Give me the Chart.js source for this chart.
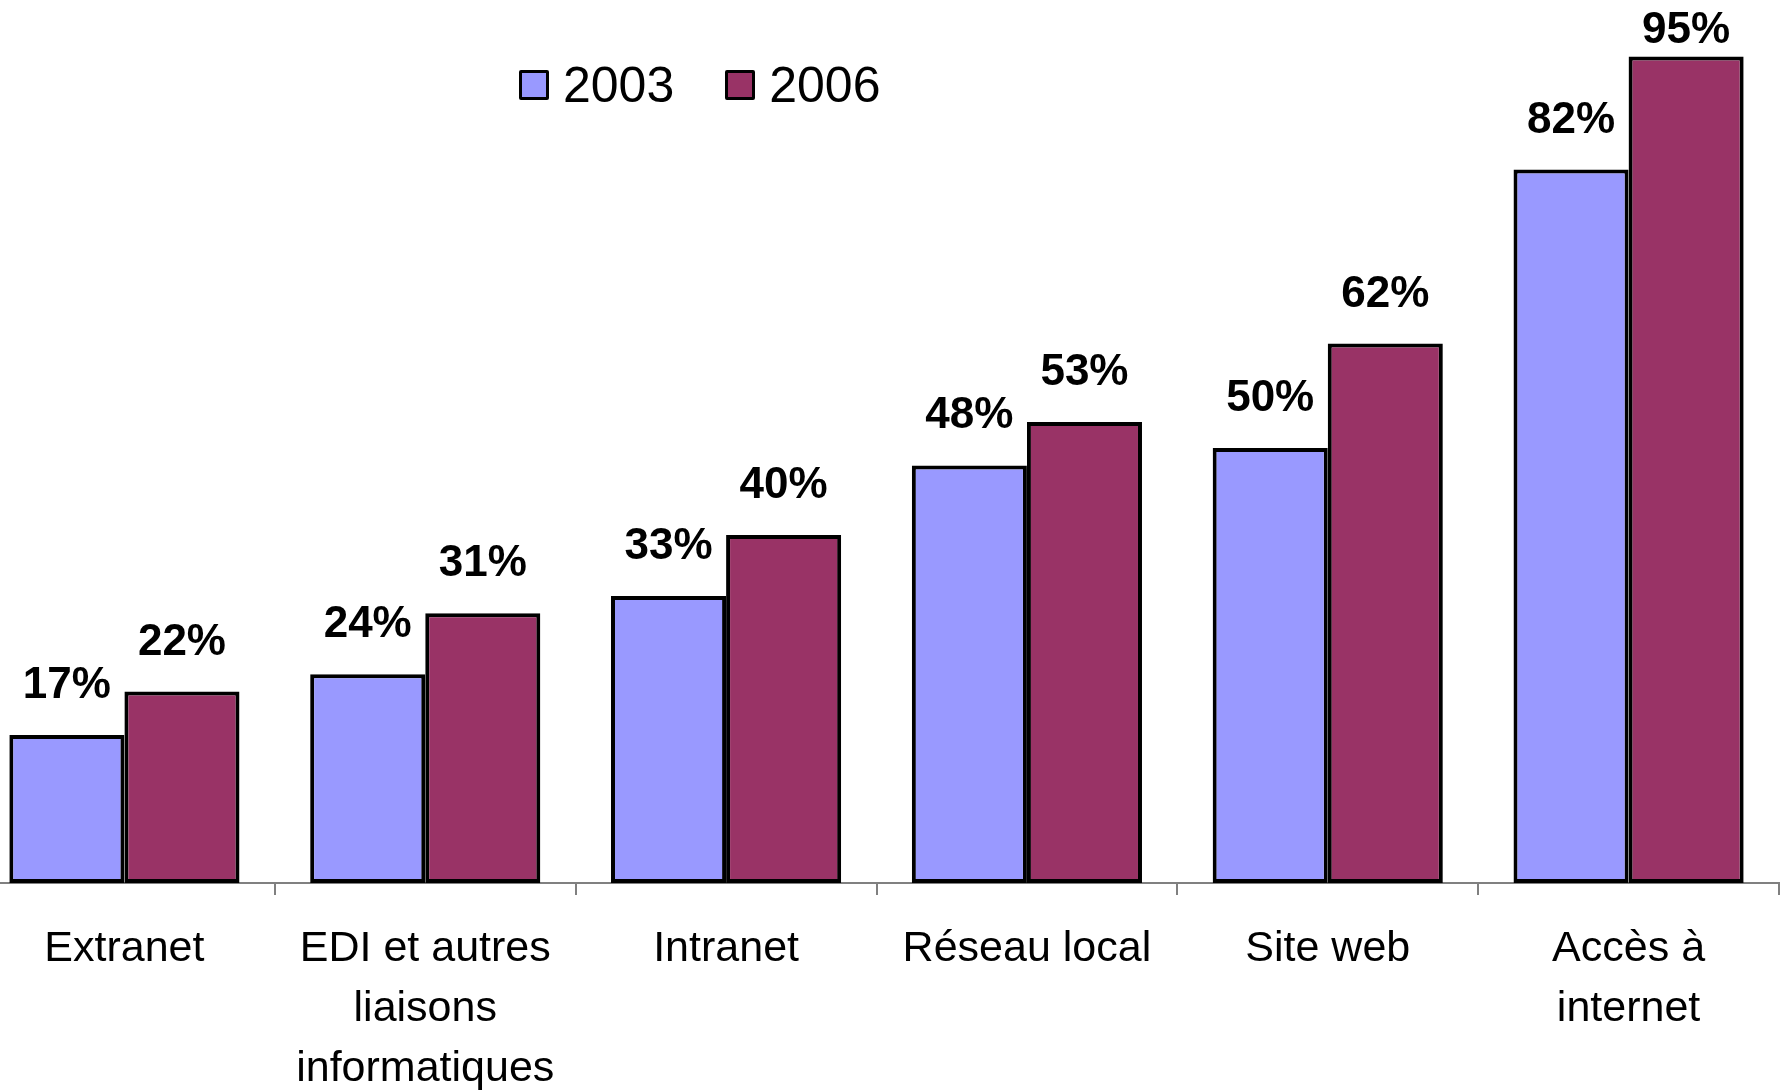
<!DOCTYPE html>
<html>
<head>
<meta charset="utf-8">
<script src="https://cdn.jsdelivr.net/npm/chart.js@4.4.1/dist/chart.umd.min.js"></script>
<style>
  html, body { margin:0; padding:0; background:#fff; overflow:hidden; width:1784px; height:1091px; }
  #wrap { position:absolute; left:-26px; top:0; width:1810px; height:1091px; }
  #legend { position:absolute; left:519px; top:58px; display:flex; align-items:center;
    font:50px 'Liberation Sans', Arial, sans-serif; color:#000; line-height:54px; }
  .item { display:flex; align-items:center; }
  .item + .item { margin-left:51px; }
  .sw { width:24px; height:24px; border:3px solid #000; border-radius:2px; margin-right:14px; }
</style>
</head>
<body>
<div id="wrap"><canvas id="chart" width="1810" height="1091"></canvas></div>
<div id="legend"></div>
<script>
const categories = ['Extranet', ['EDI et autres', 'liaisons', 'informatiques'], 'Intranet', 'Réseau local', 'Site web', ['Accès à', 'internet']];
const years = ['2003', '2006'];
const values2003 = [17, 24, 33, 48, 50, 82];
const values2006 = [22, 31, 40, 53, 62, 95];
const colors = ['#9999ff', '#993366'];

// % labels above each bar, pushed down when they would leave the canvas
const valueLabels = {
  id: 'valueLabels',
  afterDatasetsDraw(chart) {
    const ctx = chart.ctx;
    ctx.save();
    ctx.font = 'bold 44px "Liberation Sans", Arial, sans-serif';
    ctx.fillStyle = '#000'; ctx.textAlign = 'center'; ctx.textBaseline = 'alphabetic';
    chart.data.datasets.forEach((ds, i) => {
      chart.getDatasetMeta(i).data.forEach((bar, j) => {
        ctx.fillText(ds.data[j] + '%', bar.x, Math.max(bar.y - 37, 43));
      });
    });
    ctx.restore();
  }
};

new Chart(document.getElementById('chart'), {
  type: 'bar',
  data: {
    labels: categories,
    datasets: [
      { label: years[0], data: values2003, backgroundColor: colors[0], borderColor: '#000', borderWidth: 4, borderSkipped: false },
      { label: years[1], data: values2006, backgroundColor: colors[1], borderColor: '#000', borderWidth: 4, borderSkipped: false },
    ],
  },
  options: {
    responsive: false, animation: false,
    categoryPercentage: 0.765, barPercentage: 1.0,
    layout: { padding: { top: 13, right: 5, left: 0, bottom: 0 } },
    plugins: { legend: { display: false }, tooltip: { enabled: false } },
    scales: {
      y: { display: false, min: 0, max: 100 },
      x: {
        grid: { offset: true, drawOnChartArea: false, drawTicks: true, tickLength: 12, color: '#808080', lineWidth: 2 },
        border: { display: true, color: '#808080', width: 2 },
        ticks: { color: '#000', autoSkip: false, maxRotation: 0, padding: 24,
          font: { family: "'Liberation Sans', Arial, sans-serif", size: 43, lineHeight: 1.4 } },
        afterFit(s) { s.height = 208; },
      },
    },
  },
  plugins: [valueLabels],
});

document.getElementById('legend').innerHTML = years.map((y, i) =>
  `<div class="item"><div class="sw" style="background:${colors[i]}"></div><span>${y}</span></div>`).join('');
</script>
</body>
</html>
